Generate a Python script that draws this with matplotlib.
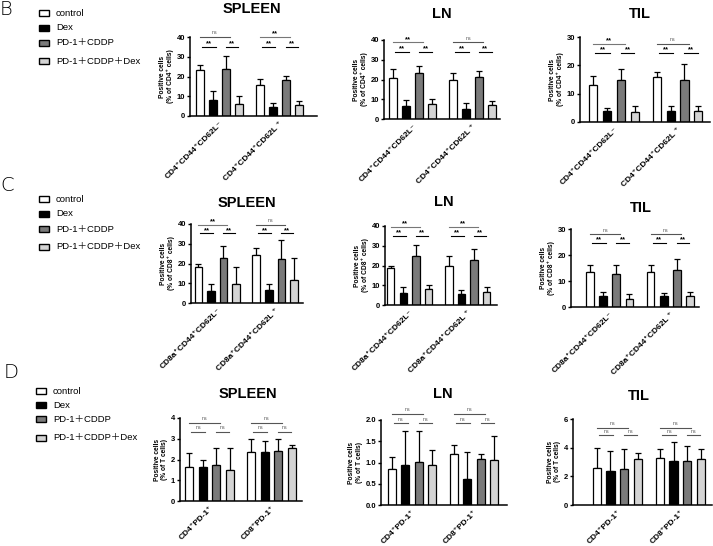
import matplotlib
matplotlib.use("Agg")
import matplotlib.pyplot as plt
from matplotlib.patches import Rectangle

plt.rcParams['font.family'] = ['Liberation Sans', 'DejaVu Sans', 'Noto Sans CJK SC']

# groups / legend
treatments = ["control", "Dex", "PD-1＋CDDP", "PD-1＋CDDP＋Dex"]
bar_colors = ["white", "black", "#7a7a7a", "#d4d4d4"]

labels_cd4 = ["CD4⁺CD44⁺CD62L⁻", "CD4⁺CD44⁺CD62L ⁺"]
labels_cd8 = ["CD8a⁺CD44⁺CD62L⁻", "CD8a⁺CD44⁺CD62L ⁺"]
labels_pd1 = ["CD4⁺PD-1⁺", "CD8⁺PD-1⁺"]

# B: CD4 effector memory / central memory
b_spleen_mean = [23.5, 7.9, 23.9, 6.2, 15.5, 4.7, 18.2, 5.4]
b_spleen_err = [2.1, 4.8, 6.7, 4.1, 3.0, 2.0, 2.0, 2.3]
b_ln_mean = [20.7, 6.7, 23.2, 7.6, 19.8, 5.0, 21.2, 7.2]
b_ln_err = [4.5, 2.7, 3.8, 2.5, 3.4, 3.1, 3.3, 2.0]
b_til_mean = [12.9, 3.9, 14.9, 3.4, 15.9, 3.8, 14.8, 3.8]
b_til_err = [3.2, 1.0, 3.8, 2.1, 1.9, 1.7, 5.8, 1.7]

# C: CD8
c_spleen_mean = [18.0, 6.1, 23.0, 9.4, 24.2, 6.6, 22.5, 11.8]
c_spleen_err = [1.5, 3.5, 5.7, 8.9, 3.9, 2.8, 9.3, 11.2]
c_ln_mean = [18.6, 5.9, 24.8, 8.0, 19.6, 5.5, 22.8, 6.5]
c_ln_err = [1.3, 3.1, 5.4, 1.9, 5.2, 2.2, 5.7, 2.5]
c_til_mean = [13.3, 4.1, 12.7, 3.2, 13.3, 4.4, 14.3, 4.2]
c_til_err = [2.7, 1.8, 3.3, 1.8, 2.9, 1.0, 4.2, 1.7]

# D: PD-1
d_spleen_mean = [1.64, 1.64, 1.75, 1.48, 2.37, 2.34, 2.40, 2.55]
d_spleen_err = [0.68, 0.36, 0.79, 1.06, 0.60, 0.55, 0.57, 0.14]
d_ln_mean = [0.84, 0.95, 1.01, 0.95, 1.19, 0.62, 1.09, 1.05]
d_ln_err = [0.28, 0.80, 0.72, 0.34, 0.23, 0.62, 0.11, 0.58]
d_til_mean = [2.55, 2.38, 2.50, 3.22, 3.27, 3.04, 3.06, 3.18]
d_til_err = [1.42, 1.40, 1.40, 0.38, 0.63, 1.33, 1.08, 0.72]

# significance: (top, left pair, right pair) per group
sig_b_spleen = [("ns", "**", "**"), ("**", "**", "**")]
sig_b_ln = [("**", "**", "**"), ("ns", "**", "**")]
sig_b_til = [("**", "**", "**"), ("ns", "**", "**")]
sig_c_spleen = [("**", "**", "**"), ("ns", "**", "**")]
sig_c_ln = [("**", "**", "**"), ("**", "**", "**")]
sig_c_til = [("ns", "**", "**"), ("ns", "**", "**")]
sig_d = [("ns", "ns", "ns"), ("ns", "ns", "ns")]

W, H = 713, 546
fig = plt.figure(figsize=(W / 100, H / 100), dpi=100)

xpos = [0, 1, 2, 3, 4.6, 5.6, 6.6, 7.6]


def panel(L, R, c0, cl, y0, yt, ymax, step, mean, err, sig, xlabels, ylab,
          title, tx, ty, ftop, fshort):
    ax = fig.add_axes([L / W, 1 - y0 / H, (R - L) / W, (y0 - yt) / H])
    sc = (cl - c0) / 7.6
    ax.set_xlim(-(c0 - L) / sc, 7.6 + (R - cl) / sc)
    ax.set_ylim(0, ymax)
    for i, x in enumerate(xpos):
        c = bar_colors[i % 4]
        ax.bar(x, mean[i], width=0.6, color=c, edgecolor="black", linewidth=0.9, zorder=2)
        ax.errorbar(x, mean[i], yerr=[[0], [err[i]]], fmt="none", ecolor="black",
                    elinewidth=0.9, capsize=2.5, capthick=0.9, zorder=1)
    for s in ["top", "right"]:
        ax.spines[s].set_visible(False)
    for s in ["left", "bottom"]:
        ax.spines[s].set_linewidth(1.1)
    ticks = [k * step for k in range(int(round(ymax / step)) + 1)]
    ax.set_yticks(ticks)
    if step < 1:
        ax.set_yticklabels([f"{t:.1f}" for t in ticks])
    ax.tick_params(axis="y", labelsize=5.5, width=1, length=2.5, pad=1)
    for t in ax.get_yticklabels():
        t.set_fontweight("bold")
    ax.set_xticks([1.5, 6.1])
    ax.set_xticklabels(xlabels, rotation=45, ha="right", rotation_mode="anchor",
                       fontsize=6, fontweight="bold")
    ax.tick_params(axis="x", length=0, pad=3)
    ax.set_ylabel(ylab, fontsize=4.8, fontweight="bold", labelpad=2, linespacing=1.1)
    fig.text(tx / W, 1 - ty / H, title, fontsize=10.5, fontweight="bold",
             ha="center", va="center")
    for g in range(2):
        x0, x1, x2, x3 = xpos[4 * g:4 * g + 4]
        top, s1, s2 = sig[g]
        for (a, b, yy, lab, col) in [(x0, x2 + 0.3, ftop * ymax, top, "#777777"),
                                     (x0 + 0.15, x1 + 0.2, fshort * ymax, s1, "black"),
                                     (x2, x3 - 0.05, fshort * ymax, s2, "black")]:
            ax.plot([a, b], [yy, yy], color=col if lab == "**" else "#555555",
                    lw=0.8, clip_on=False)
            if lab == "ns":
                ax.text((a + b) / 2, yy + 0.02 * ymax, "ns", fontsize=3.8, color="#555555",
                        ha="center", va="bottom")
            else:
                ax.text((a + b) / 2, yy - 0.005 * ymax, "**", fontsize=5.5, fontweight="bold",
                        ha="center", va="bottom")
    return ax


ylab4 = "Positive cells\n(% of CD4⁺ cells)"
ylab8 = "Positive cells\n(% of CD8⁺ cells)"
ylabT = "Positive cells\n(% of T cells)"

panel(190, 317, 200, 298.7, 116, 37, 40, 10, b_spleen_mean, b_spleen_err, sig_b_spleen,
      labels_cd4, ylab4, "SPLEEN", 252, 9, 1.0, 0.87)
panel(384, 500, 393.3, 492.3, 119, 40, 40, 10, b_ln_mean, b_ln_err, sig_b_ln,
      labels_cd4, ylab4, "LN", 442, 14, 0.97, 0.845)
panel(580, 710, 593.3, 698.3, 122, 37, 30, 10, b_til_mean, b_til_err, sig_b_til,
      labels_cd4, ylab4, "TIL", 640, 14, 0.92, 0.81)

panel(191, 303, 198.3, 294, 303, 224, 40, 10, c_spleen_mean, c_spleen_err, sig_c_spleen,
      labels_cd8, ylab8, "SPLEEN", 247, 203, 0.99, 0.88)
panel(385, 497, 390.7, 486.7, 305, 226, 40, 10, c_ln_mean, c_ln_err, sig_c_ln,
      labels_cd8, ylab8, "LN", 444, 202, 0.99, 0.87)
panel(571, 699, 590, 690, 307, 229, 30, 10, c_til_mean, c_til_err, sig_c_til,
      labels_cd8, ylab8, "TIL", 641, 208, 0.93, 0.82)

panel(180, 302, 189.3, 291.7, 501, 418, 4, 1, d_spleen_mean, d_spleen_err, sig_d,
      labels_pd1, ylabT, "SPLEEN", 248, 394, 0.94, 0.83)
panel(381, 507, 391.7, 494.3, 505, 420, 2, 0.5, d_ln_mean, d_ln_err, sig_d,
      labels_pd1, ylabT, "LN", 443, 394, 1.07, 0.96)
panel(573, 712, 596.7, 701, 505, 419, 6, 2, d_til_mean, d_til_err, sig_d,
      labels_pd1, ylabT, "TIL", 639, 396, 0.90, 0.81)

# legends and panel letters
for letter, lx, ly, bx, rows in [("B", 0, 0, 39, [13, 28, 43, 61]),
                                 ("C", 0, 176, 39, [199, 214, 229, 247]),
                                 ("D", 4, 363, 36, [391, 405, 419, 438])]:
    fig.text(lx / W, 1 - ly / H, letter, fontsize=14, ha="left", va="top",
             family="DejaVu Sans", fontweight="light")
    for i, ry in enumerate(rows):
        fig.patches.append(Rectangle((bx / W, 1 - (ry + 3) / H), 10 / W, 6 / H,
                                     facecolor=bar_colors[i], edgecolor="black",
                                     linewidth=1.0, transform=fig.transFigure))
        fig.text((bx + 17) / W, 1 - ry / H, treatments[i], fontsize=6.8,
                 ha="left", va="center")

plt.savefig("out.png", dpi=100)
